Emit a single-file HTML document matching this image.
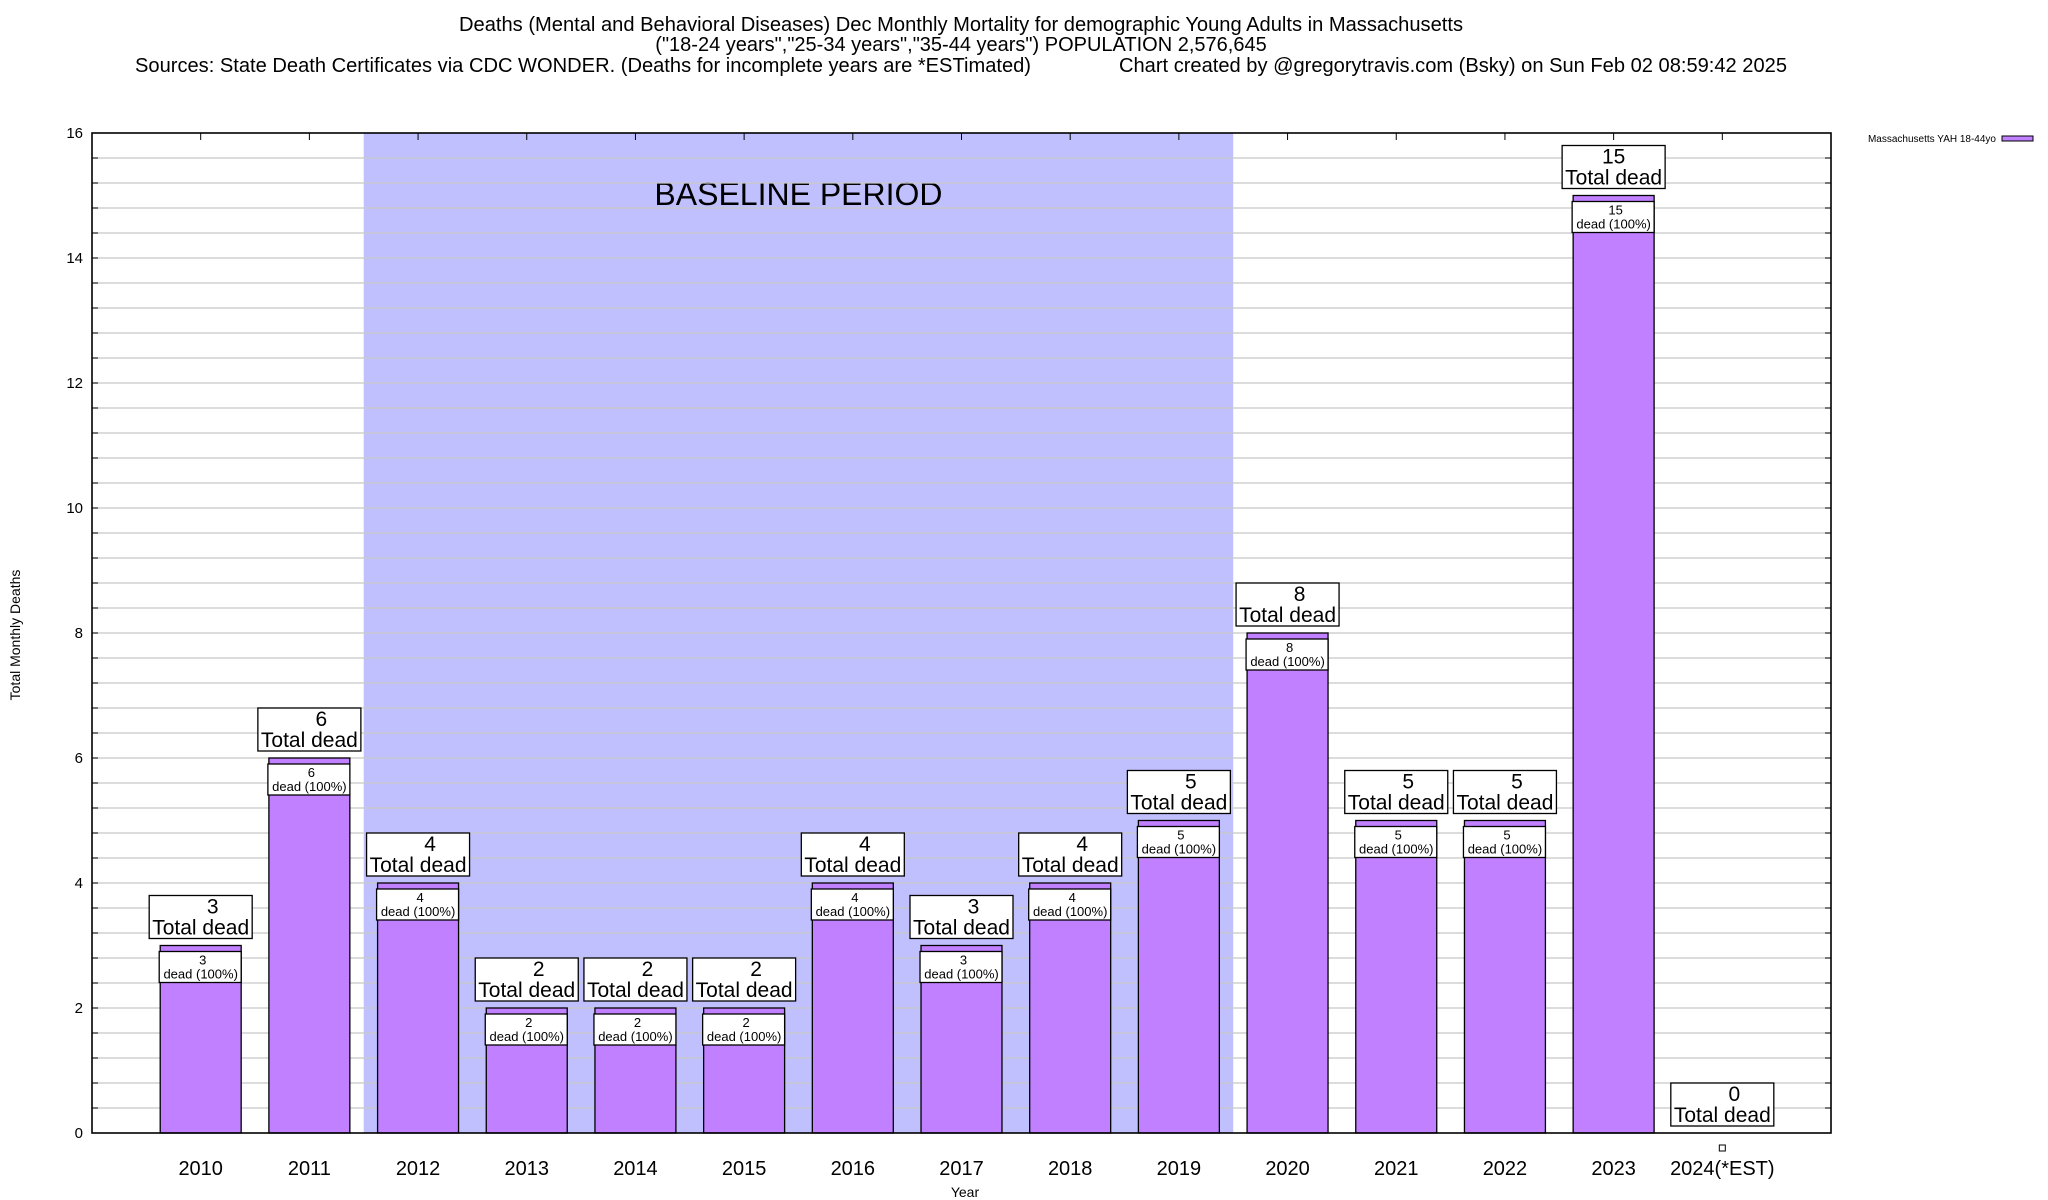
<!DOCTYPE html>
<html><head><meta charset="utf-8"><style>
html,body{margin:0;padding:0;background:#fff;}
svg{display:block;font-family:"Liberation Sans",sans-serif;}
</style></head><body>
<svg id="chart" width="2048" height="1200" viewBox="0 0 2048 1200">
<g fill="#000">
<text x="961" y="31" font-size="20" text-anchor="middle" textLength="1004" lengthAdjust="spacingAndGlyphs">Deaths (Mental and Behavioral Diseases) Dec Monthly Mortality for demographic Young Adults in Massachusetts</text>
<text x="961" y="51" font-size="20" text-anchor="middle">("18-24 years","25-34 years","35-44 years") POPULATION 2,576,645</text>
<text x="135" y="72" font-size="20" textLength="896" lengthAdjust="spacingAndGlyphs">Sources: State Death Certificates via CDC WONDER. (Deaths for incomplete years are *ESTimated)</text>
<text x="1787" y="72" font-size="20" text-anchor="end" textLength="668" lengthAdjust="spacingAndGlyphs">Chart created by @gregorytravis.com (Bsky) on Sun Feb 02 08:59:42 2025</text>
</g>
<g id="plot"></g>
</svg>
<script>
const categories = ["2010","2011","2012","2013","2014","2015","2016","2017","2018","2019","2020","2021","2022","2023","2024(*EST)"];
const deaths = [3,6,4,2,2,2,4,3,4,5,8,5,5,15,0];
const yTicks = [0,2,4,6,8,10,12,14,16];
const baselineRange = [1.5, 9.5];

const L=92, R=1831, T=133, B=1133, yMax=16;
const step=(R-L)/(categories.length+1);
const xs=i=>L+step*(i+1);
const ys=v=>B-(v/yMax)*(B-T);
const NS="http://www.w3.org/2000/svg";
const plot=document.getElementById('plot');
function mk(tag,attrs,parent){const e=document.createElementNS(NS,tag);for(const k in attrs)e.setAttribute(k,attrs[k]);(parent||plot).appendChild(e);return e;}

const sh=mk('rect',{x:xs(baselineRange[0]),y:T,width:xs(baselineRange[1])-xs(baselineRange[0]),height:B-T,fill:'#c0c0ff'});


const bt=mk('text',{x:(xs(baselineRange[0])+xs(baselineRange[1]))/2,y:205,'font-size':32,'text-anchor':'middle'});
bt.textContent='BASELINE PERIOD';



for(let k=1;k<40;k++){const v=k*0.4;const y=ys(v);
 const g=mk('line',{x1:L,x2:R,y1:y,y2:y,stroke:'#c8c8c8','stroke-width':1.3});
 
 
 mk('line',{x1:L,x2:L+6,y1:y,y2:y,stroke:'#000'});
 mk('line',{x1:R-6,x2:R,y1:y,y2:y,stroke:'#000'});
}
yTicks.forEach(v=>{const t=mk('text',{x:83,y:ys(v)+5,'font-size':15,'text-anchor':'end'});t.textContent=v;
 
 });

const bw=step*0.745;
categories.forEach((c,i)=>{
 const cx=xs(i), v=deaths[i], top=ys(v);
 mk('line',{x1:cx,x2:cx,y1:T,y2:T+7,stroke:'#000'});
 if(v>0){
  const r=mk('rect',{x:cx-bw/2,y:top,width:bw,height:B-top,fill:'#c080ff',stroke:'#000','stroke-width':1.3});
  
  
  const ib=mk('rect',{x:cx-bw/2-1,y:top+6,width:bw+1,height:31,fill:'#fff',stroke:'#000','stroke-width':1.3});
  
  
  const t1=mk('text',{x:cx+2,y:top+19,'font-size':13,'text-anchor':'middle'});t1.textContent=v;
  
  
  const t2=mk('text',{x:cx,y:top+33,'font-size':13,'text-anchor':'middle'});t2.textContent='dead (100%)';
  
  
 } else {
  const m=mk('rect',{x:cx-3,y:B+12,width:6,height:6,fill:'#fff',stroke:'#000'});
  
  
 }
 const bb=top-7;
 const ob=mk('rect',{x:cx-51.5,y:bb-43,width:103,height:43,fill:'#fff',stroke:'#000','stroke-width':1.3});
 
 
 const o1=mk('text',{x:cx+(String(v).length===1?12:0),y:bb-25,'font-size':21,'text-anchor':'middle'});o1.textContent=v;
 
 
 const o2=mk('text',{x:cx,y:bb-4,'font-size':21,'text-anchor':'middle'});o2.textContent='Total dead';
 
 
 const xl=mk('text',{x:cx,y:1175,'font-size':20,'text-anchor':'middle'});xl.textContent=c;
 
 
});

const fr=mk('rect',{x:L,y:T,width:R-L,height:B-T,fill:'none',stroke:'#000','stroke-width':1.6});



const xt=mk('text',{x:965,y:1197,'font-size':14,'text-anchor':'middle'});xt.textContent='Year';


const yt=mk('text',{x:0,y:0,'font-size':14,'text-anchor':'middle',transform:'translate(20,635) rotate(-90)'});yt.textContent='Total Monthly Deaths';



const lt=mk('text',{x:1996,y:142,'font-size':10,'text-anchor':'end'});lt.textContent='Massachusetts YAH 18-44yo';


const ls=mk('rect',{x:2002,y:136,width:31,height:5,fill:'#c080ff',stroke:'#000'});


</script>
</body></html>
